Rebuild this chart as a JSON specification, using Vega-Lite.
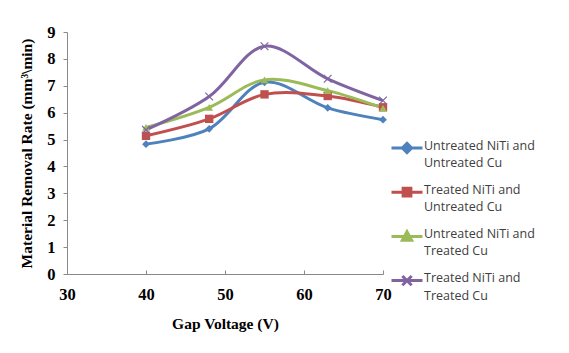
{
  "$schema": "https://vega.github.io/schema/vega-lite/v6.json",
  "width": 316,
  "height": 242,
  "autosize": {"type": "none"},
  "padding": {"left": 67, "top": 32, "right": 186, "bottom": 79},
  "background": "white",
  "config": {
    "view": {"stroke": null},
    "axis": {"grid": false, "domainColor": "#898989", "tickColor": "#898989", "labelFont": "Liberation Serif", "labelFontWeight": "bold", "labelFontSize": 16.5, "labelColor": "#000000", "titleFont": "Liberation Serif", "titleFontWeight": "bold", "titleFontSize": 15.5, "titleColor": "#000000"}
  },
  "data": {
    "values": [
      {"voltage": 40, "mrr": 4.83, "series": "Untreated NiTi and Untreated Cu"},
      {"voltage": 48, "mrr": 5.4, "series": "Untreated NiTi and Untreated Cu"},
      {"voltage": 55, "mrr": 7.13, "series": "Untreated NiTi and Untreated Cu"},
      {"voltage": 63, "mrr": 6.18, "series": "Untreated NiTi and Untreated Cu"},
      {"voltage": 70, "mrr": 5.74, "series": "Untreated NiTi and Untreated Cu"},
      {"voltage": 40, "mrr": 5.14, "series": "Treated NiTi and Untreated Cu"},
      {"voltage": 48, "mrr": 5.77, "series": "Treated NiTi and Untreated Cu"},
      {"voltage": 55, "mrr": 6.68, "series": "Treated NiTi and Untreated Cu"},
      {"voltage": 63, "mrr": 6.62, "series": "Treated NiTi and Untreated Cu"},
      {"voltage": 70, "mrr": 6.2, "series": "Treated NiTi and Untreated Cu"},
      {"voltage": 40, "mrr": 5.45, "series": "Untreated NiTi and Treated Cu"},
      {"voltage": 48, "mrr": 6.2, "series": "Untreated NiTi and Treated Cu"},
      {"voltage": 55, "mrr": 7.22, "series": "Untreated NiTi and Treated Cu"},
      {"voltage": 63, "mrr": 6.82, "series": "Untreated NiTi and Treated Cu"},
      {"voltage": 70, "mrr": 6.17, "series": "Untreated NiTi and Treated Cu"},
      {"voltage": 40, "mrr": 5.36, "series": "Treated NiTi and Treated Cu"},
      {"voltage": 48, "mrr": 6.6, "series": "Treated NiTi and Treated Cu"},
      {"voltage": 55, "mrr": 8.47, "series": "Treated NiTi and Treated Cu"},
      {"voltage": 63, "mrr": 7.26, "series": "Treated NiTi and Treated Cu"},
      {"voltage": 70, "mrr": 6.45, "series": "Treated NiTi and Treated Cu"}
    ]
  },
  "encoding": {
    "x": {"field": "voltage", "type": "quantitative", "scale": {"domain": [30, 70], "nice": false, "zero": false},
      "axis": {"title": "Gap Voltage (V)", "values": [30, 40, 50, 60, 70], "tickSize": -4, "labelFlush": false, "labelPadding": 16, "titlePadding": 14}},
    "y": {"field": "mrr", "type": "quantitative", "scale": {"domain": [0, 9], "nice": false},
      "axis": {"title": "Material Removal Rate (mm³\\min)", "values": [0, 1, 2, 3, 4, 5, 6, 7, 8, 9], "tickSize": 4, "labelFlush": false, "labelPadding": 8, "titlePadding": 12}}
  },
  "layer": [
    {
      "mark": {"type": "line", "interpolate": "catmull-rom", "strokeWidth": 3},
      "encoding": {
        "color": {"field": "series", "type": "nominal",
          "scale": {"domain": ["Untreated NiTi and Untreated Cu", "Treated NiTi and Untreated Cu", "Untreated NiTi and Treated Cu", "Treated NiTi and Treated Cu"], "range": ["#4F81BD", "#C0504D", "#9BBB59", "#8064A2"]},
          "legend": {
            "title": null, "orient": "none", "legendX": 323, "legendY": 99,
            "labelFont": "Open Sans", "labelFontSize": 12.5, "labelColor": "#404040", "labelLimit": 200,
            "labelOffset": 0, "rowPadding": 5.2, "symbolSize": 961, "symbolStrokeWidth": 3,
            "labelExpr": "[slice(datum.label, 0, indexof(datum.label, ' and ') + 4), slice(datum.label, indexof(datum.label, ' and ') + 5)]",
            "encode": {
              "labels": {"update": {"lineHeight": {"value": 17.5}, "baseline": {"value": "top"}, "dy": {"value": -8.5}}},
              "symbols": {"update": {
                "shape": {"signal": "datum.value === 'Untreated NiTi and Untreated Cu' ? 'M-1,0L1,0M0,-0.3L0.3,0L0,0.3L-0.3,0Z' : datum.value === 'Treated NiTi and Untreated Cu' ? 'M-1,0L1,0M-0.25,-0.25L0.25,-0.25L0.25,0.25L-0.25,0.25Z' : datum.value === 'Untreated NiTi and Treated Cu' ? 'M-1,0L1,0M0,-0.3L0.3,0.25L-0.3,0.25Z' : 'M-1,0L1,0M-0.3,-0.3L0.3,0.3M0.3,-0.3L-0.3,0.3'"},
                "fill": {"signal": "datum.value === 'Untreated NiTi and Untreated Cu' ? '#4F81BD' : datum.value === 'Treated NiTi and Untreated Cu' ? '#C0504D' : datum.value === 'Untreated NiTi and Treated Cu' ? '#9BBB59' : '#8064A2'"},
                "stroke": {"signal": "datum.value === 'Untreated NiTi and Untreated Cu' ? '#4F81BD' : datum.value === 'Treated NiTi and Untreated Cu' ? '#C0504D' : datum.value === 'Untreated NiTi and Treated Cu' ? '#9BBB59' : '#8064A2'"}
              }}
            }
          }}
      }
    },
    {
      "transform": [{"filter": "datum.series === 'Untreated NiTi and Untreated Cu'"}],
      "mark": {"type": "point", "shape": "diamond", "filled": true, "size": 60, "opacity": 1, "color": "#4F81BD"}
    },
    {
      "transform": [{"filter": "datum.series === 'Treated NiTi and Untreated Cu'"}],
      "mark": {"type": "point", "shape": "square", "filled": true, "size": 70, "opacity": 1, "color": "#C0504D"}
    },
    {
      "transform": [{"filter": "datum.series === 'Untreated NiTi and Treated Cu'"}],
      "mark": {"type": "point", "shape": "triangle-up", "filled": true, "size": 60, "opacity": 1, "color": "#9BBB59"}
    },
    {
      "transform": [{"filter": "datum.series === 'Treated NiTi and Treated Cu'"}],
      "mark": {"type": "point", "shape": "M-1,-1L1,1M1,-1L-1,1", "filled": false, "size": 60, "opacity": 1, "color": "#8064A2", "strokeWidth": 1.2}
    }
  ]
}
